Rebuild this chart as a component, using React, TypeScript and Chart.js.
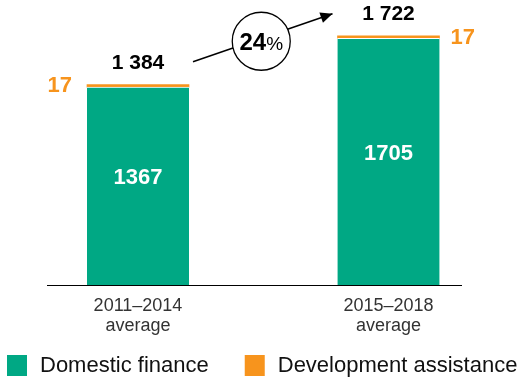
import React, { useEffect, useRef } from "react";
import { Chart, registerables } from "chart.js";

Chart.register(...registerables);

const categories: string[][] = [["2011–2014", "average"], ["2015–2018", "average"]];
const domesticFinance: number[] = [1367, 1705];
const developmentAssistance: number[] = [17, 17];
const totalLabels: string[] = ["1 384", "1 722"];
const growthLabel = "24";

const GREEN = "#00a884";
const ORANGE = "#f7941d";
const FONT = "'Liberation Sans', Arial, sans-serif";

const annotations = {
  id: "annotations",
  afterDatasetsDraw(chart: any) {
    const ctx = chart.ctx;
    const area = chart.chartArea;
    const y = chart.scales.y;
    const g = chart.getDatasetMeta(0).data;
    const o = chart.getDatasetMeta(1).data;
    ctx.save();
    // axis line
    ctx.strokeStyle = "#000";
    ctx.lineWidth = 1;
    ctx.beginPath();
    ctx.moveTo(47, Math.round(area.bottom) + 0.5);
    ctx.lineTo(462, Math.round(area.bottom) + 0.5);
    ctx.stroke();

    ctx.textBaseline = "middle";
    // inner labels
    ctx.font = `bold 22px ${FONT}`;
    ctx.fillStyle = "#fff";
    ctx.textAlign = "center";
    g.forEach((bar: any, i: number) => {
      const mid = (bar.y + bar.base) / 2 - 8;
      ctx.fillText(String(domesticFinance[i]), bar.x, mid);
    });
    // totals
    ctx.fillStyle = "#000";
    ctx.font = `bold 21px ${FONT}`;
    const tops: number[] = [];
    o.forEach((bar: any, i: number) => {
      const top = y.getPixelForValue(domesticFinance[i] + developmentAssistance[i]);
      tops.push(top);
      ctx.fillText(totalLabels[i], bar.x, top - 21.5);
    });
    // orange labels
    ctx.fillStyle = ORANGE;
    ctx.font = `bold 22px ${FONT}`;
    o.forEach((bar: any, i: number) => {
      const half = bar.width / 2;
      if (i === 0) {
        ctx.textAlign = "right";
        ctx.fillText(String(developmentAssistance[i]), bar.x - half - 15, bar.y + 1);
      } else {
        ctx.textAlign = "left";
        ctx.fillText(String(developmentAssistance[i]), bar.x + half + 11, bar.y + 2.5);
      }
    });
    // arrow
    const b0 = o[0], b1 = o[1];
    const x1 = b0.x + b0.width / 2 + 4;
    const y1 = tops[0] - 23;
    const x2 = b1.x - b1.width / 2 - 5;
    const y2 = tops[1] - 22;
    ctx.strokeStyle = "#000";
    ctx.lineWidth = 1.5;
    ctx.beginPath();
    ctx.moveTo(x1, y1);
    ctx.lineTo(x2, y2);
    ctx.stroke();
    const ang = Math.atan2(y2 - y1, x2 - x1);
    const hl = 12, hw = 5.5;
    ctx.fillStyle = "#000";
    ctx.beginPath();
    ctx.moveTo(x2, y2);
    ctx.lineTo(x2 - hl * Math.cos(ang) + hw * Math.sin(ang), y2 - hl * Math.sin(ang) - hw * Math.cos(ang));
    ctx.lineTo(x2 - hl * Math.cos(ang) - hw * Math.sin(ang), y2 - hl * Math.sin(ang) + hw * Math.cos(ang));
    ctx.closePath();
    ctx.fill();
    // circle
    const cx = (b0.x + b1.x) / 2 - 2;
    const cy = y1 + (y2 - y1) * ((cx - x1) / (x2 - x1)) + 3;
    ctx.beginPath();
    ctx.arc(cx, cy, 29, 0, Math.PI * 2);
    ctx.fillStyle = "#fff";
    ctx.fill();
    ctx.lineWidth = 1.3;
    ctx.stroke();
    ctx.fillStyle = "#000";
    ctx.font = `bold 24px ${FONT}`;
    const w1 = ctx.measureText(growthLabel).width;
    ctx.font = `19px ${FONT}`;
    const w2 = ctx.measureText("%").width;
    const sx = cx - (w1 + w2) / 2;
    ctx.textAlign = "left";
    ctx.textBaseline = "alphabetic";
    ctx.font = `bold 24px ${FONT}`;
    ctx.fillText(growthLabel, sx, cy + 9);
    ctx.font = `19px ${FONT}`;
    ctx.fillText("%", sx + w1, cy + 9);
    ctx.restore();
  },
  afterDraw(chart: any) {
    // legend
    const ctx = chart.ctx;
    ctx.save();
    ctx.font = `22px ${FONT}`;
    ctx.textBaseline = "middle";
    ctx.textAlign = "left";
    let x = 7;
    const cy = 365.5;
    chart.data.datasets.forEach((ds: any) => {
      ctx.fillStyle = ds.backgroundColor;
      ctx.fillRect(x, cy - 10.5, 20, 21);
      ctx.fillStyle = "#111";
      ctx.fillText(ds.label, x + 33, cy);
      x += 33 + ctx.measureText(ds.label).width + 36;
    });
    ctx.restore();
  },
};

export default function App() {
  const ref = useRef<HTMLCanvasElement | null>(null);
  useEffect(() => {
    if (!ref.current) return;
    const chart = new Chart(ref.current, {
      type: "bar",
      data: {
        labels: categories,
        datasets: [
          {
            label: "Domestic finance",
            data: domesticFinance,
            backgroundColor: GREEN,
            borderColor: "#ffffff",
            borderWidth: { top: 1, left: 0, right: 0, bottom: 0 },
            borderSkipped: false,
            barThickness: 102,
          },
          {
            label: "Development assistance",
            data: developmentAssistance,
            backgroundColor: ORANGE,
            borderWidth: 0,
            barThickness: 102,
          },
        ],
      },
      options: {
        animation: false,
        responsive: true,
        maintainAspectRatio: false,
        layout: { padding: { left: 12.75, right: 6.25, top: 10, bottom: 42.4 } },
        scales: {
          x: {
            stacked: true,
            grid: { display: false },
            border: { display: false },
            ticks: {
              color: "#333",
              font: { family: FONT, size: 18, lineHeight: 1.1 },
              padding: 3,
            },
          },
          y: {
            stacked: true,
            display: false,
            min: 0,
            max: 1900,
          },
        },
        plugins: {
          legend: { display: false },
          tooltip: { enabled: false },
        },
      },
      plugins: [annotations],
    });
    return () => chart.destroy();
  }, []);
  return (
    <div style={{ position: "absolute", left: 0, top: 0, width: 520, height: 381 }}>
      <canvas ref={ref} />
    </div>
  );
}
